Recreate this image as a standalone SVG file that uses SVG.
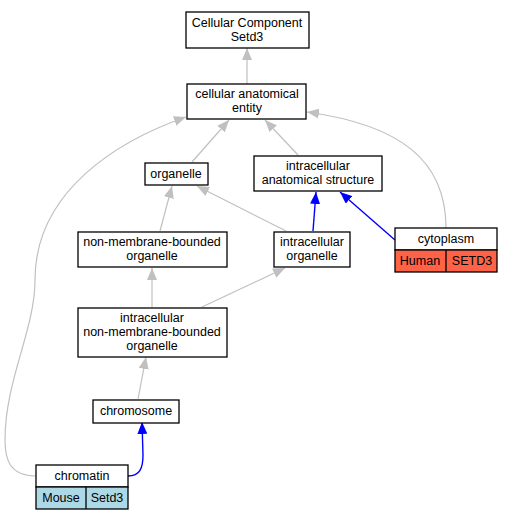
<svg xmlns="http://www.w3.org/2000/svg" width="513" height="520" viewBox="0 0 513 520">
<style>
text{font-family:"Liberation Sans",Arial,sans-serif;font-size:12.5px;text-anchor:middle;fill:#000}
.box{fill:#fff;stroke:#000;stroke-width:1.3}
.g{fill:none;stroke:#c0c0c0;stroke-width:1.2}
.b{fill:none;stroke:#0000ff;stroke-width:1.4}
</style>
<defs>
<marker id="ag" viewBox="0 0 12 10" refX="12" refY="5" markerWidth="12" markerHeight="10" markerUnits="userSpaceOnUse" orient="auto"><path d="M0,0L12,5L0,10z" fill="#c0c0c0"/></marker>
<marker id="ab" viewBox="0 0 12 10" refX="12" refY="5" markerWidth="12" markerHeight="10" markerUnits="userSpaceOnUse" orient="auto"><path d="M0,0L12,5L0,10z" fill="#0000ff"/></marker>
</defs>
<rect width="513" height="520" fill="#fff"/>
<g id="edges">
<path class="g" marker-end="url(#ag)" d="M247,84L247,48"/>
<path class="g" marker-end="url(#ag)" d="M192,162L229,120"/>
<path class="g" marker-end="url(#ag)" d="M298,155L265,120"/>
<path class="g" marker-end="url(#ag)" d="M446,228C446,160 400,125 307,112"/>
<path class="g" marker-end="url(#ag)" d="M36,476C10,476 5,460 5,440C5,380 35,330 35,280C35,190 120,140 186,117"/>
<path class="g" marker-end="url(#ag)" d="M160,231L172,186"/>
<path class="g" marker-end="url(#ag)" d="M286,231L197,186"/>
<path class="b" marker-end="url(#ab)" d="M313,231L316,192"/>
<path class="b" marker-end="url(#ab)" d="M395,240L340,192"/>
<path class="g" marker-end="url(#ag)" d="M152,307L152,268"/>
<path class="g" marker-end="url(#ag)" d="M202,307L285,268"/>
<path class="g" marker-end="url(#ag)" d="M138,399L146,357"/>
<path class="b" marker-end="url(#ab)" d="M128,476C140,476 143,468 143,455L142,422"/>
</g>
<g id="n_cc"><rect class="box" x="186" y="12" width="123" height="36"/><text x="247" y="27">Cellular Component</text><text x="247" y="41">Setd3</text></g>
<g id="n_cae"><rect class="box" x="187" y="84" width="119" height="35"/><text x="247" y="98">cellular anatomical</text><text x="247" y="112">entity</text></g>
<g id="n_org"><rect class="box" x="145" y="163" width="63" height="22"/><text x="176" y="178">organelle</text></g>
<g id="n_ias"><rect class="box" x="254" y="156" width="128" height="35"/><text x="318" y="170">intracellular</text><text x="318" y="184">anatomical structure</text></g>
<g id="n_nmb"><rect class="box" x="78" y="232" width="149" height="35"/><text x="152" y="246">non-membrane-bounded</text><text x="152" y="260">organelle</text></g>
<g id="n_io"><rect class="box" x="274" y="232" width="76" height="35"/><text x="312" y="246">intracellular</text><text x="312" y="260">organelle</text></g>
<g id="n_cyto"><rect class="box" x="395" y="228" width="102" height="22"/><rect x="395" y="250" width="102" height="22" fill="#ff6347" stroke="#000" stroke-width="1.3"/><line x1="446" y1="250" x2="446" y2="272" stroke="#000" stroke-width="1.3"/><text x="446" y="243">cytoplasm</text><text x="420" y="265">Human</text><text x="472" y="265">SETD3</text></g>
<g id="n_inmb"><rect class="box" x="78" y="308" width="149" height="49"/><text x="152" y="322">intracellular</text><text x="152" y="336">non-membrane-bounded</text><text x="152" y="350">organelle</text></g>
<g id="n_chrom"><rect class="box" x="93" y="400" width="86" height="23"/><text x="136" y="415">chromosome</text></g>
<g id="n_chromatin"><rect class="box" x="36" y="465" width="92" height="22"/><rect x="36" y="487" width="92" height="22" fill="#add8e6" stroke="#000" stroke-width="1.3"/><line x1="86" y1="487" x2="86" y2="509" stroke="#000" stroke-width="1.3"/><text x="82" y="480">chromatin</text><text x="61" y="502">Mouse</text><text x="107" y="502">Setd3</text></g>
</svg>
